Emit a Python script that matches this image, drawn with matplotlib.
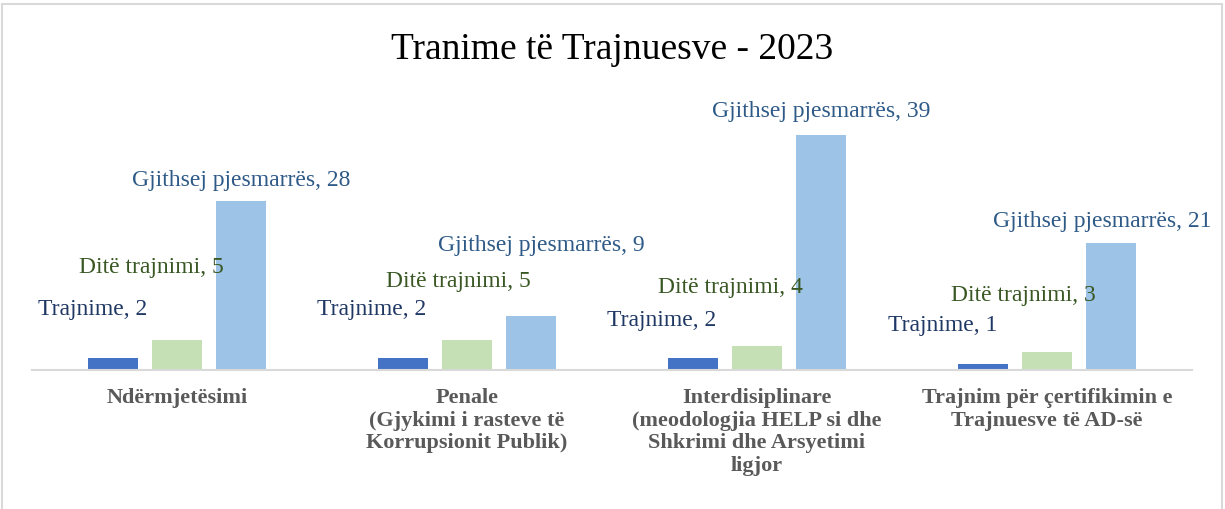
import matplotlib.pyplot as plt
from matplotlib.patches import Rectangle
import numpy as np

plt.rcParams['font.family'] = ['Liberation Serif', 'DejaVu Serif']

categories = [
    "Ndërmjetësimi",
    "Penale\n(Gjykimi i rasteve të\nKorrupsionit Publik)",
    "Interdisiplinare\n(meodologjia HELP si dhe\nShkrimi dhe Arsyetimi\nligjor",
    "Trajnim për çertifikimin e\nTrajnuesve të AD-së",
]
series_names = ["Trajnime", "Ditë trajnimi", "Gjithsej pjesmarrës"]
trajnime = [2, 2, 2, 1]
dite_trajnimi = [5, 5, 4, 3]
gjithsej = [28, 9, 39, 21]

bar_colors = ["#4472C4", "#C5E0B4", "#9DC3E6"]
label_colors = ["#203864", "#385723", "#2E5A87"]

# label placement (offset from group centre in category units, height in data units)
label_dx = [
    [-0.29, -0.33, -0.33, -0.36],
    [-0.09, -0.03, -0.09, -0.08],
    [0.22, 0.255, 0.22, 0.19],
]
label_y = [
    [10.0, 10.0, 8.2, 7.3],
    [17.0, 14.6, 13.6, 12.3],
    [31.5, 20.7, 42.8, 24.6],
]

fig = plt.figure(figsize=(12.25, 5.09), dpi=100)
ax = fig.add_axes([32 / 1225, 139 / 509, 1160 / 1225, 241.2 / 509])

x = np.arange(len(categories))
width = 0.172
step = 0.222
for i, vals in enumerate([trajnime, dite_trajnimi, gjithsej]):
    ax.bar(x + (i - 1) * step, vals, width, color=bar_colors[i], zorder=2)
    for j, v in enumerate(vals):
        ax.text(x[j] + label_dx[i][j], label_y[i][j], f"{series_names[i]}, {v}",
                ha='center', va='center', fontsize=17, color=label_colors[i], zorder=3)

ax.set_xlim(-0.5, 3.5)
ax.set_ylim(0, 40)
ax.set_yticks([])
ax.set_xticks(x)
ax.set_xticklabels(categories, fontsize=16, fontweight='bold', color='#595959',
                   linespacing=1.17)
ax.tick_params(axis='x', length=0, pad=13)
for s in ['top', 'right', 'left']:
    ax.spines[s].set_visible(False)
ax.spines['bottom'].set_color('#D9D9D9')
ax.spines['bottom'].set_linewidth(1.5)

fig.text(0.5, 1 - 50 / 509, "Tranime të Trajnuesve - 2023", ha='center', va='center',
         fontsize=27, color='black')

fig.patches.append(Rectangle((2 / 1225, -0.02), 1220 / 1225, 1.013, transform=fig.transFigure,
                             fill=False, edgecolor='#D9D9D9', linewidth=1.5))

fig.savefig("out.png", dpi=100)
